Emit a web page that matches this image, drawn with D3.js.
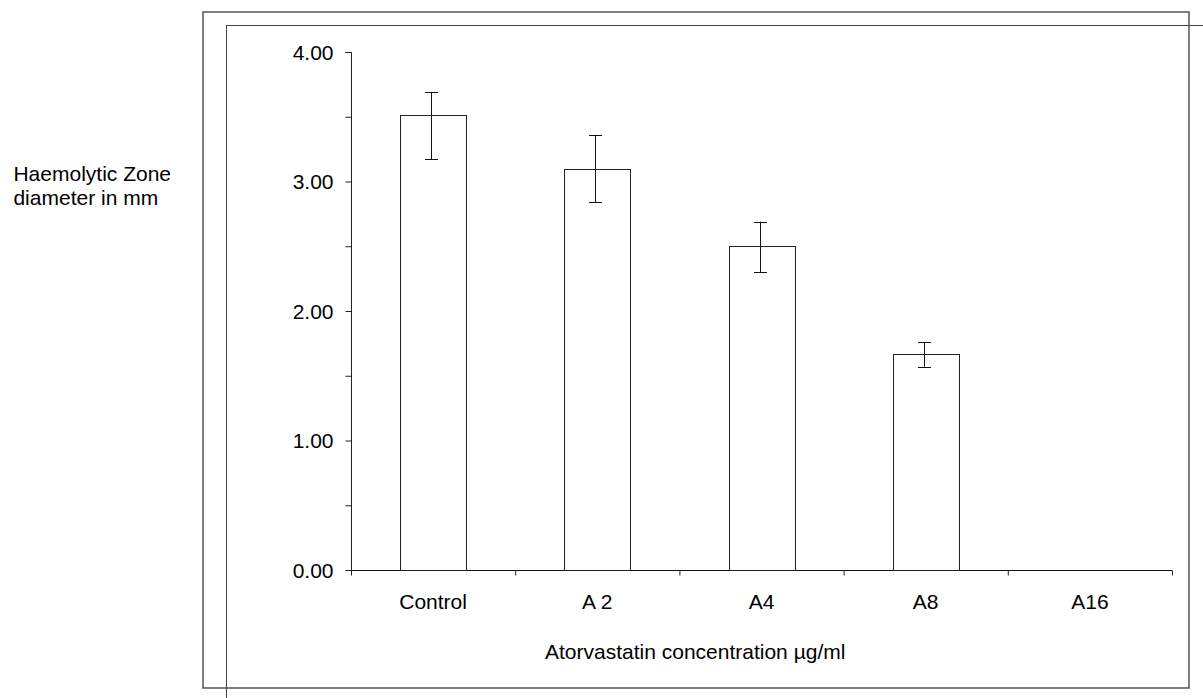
<!DOCTYPE html>
<html>
<head>
<meta charset="utf-8">
<script src="https://cdn.jsdelivr.net/npm/d3@7/dist/d3.min.js"></script>
<style>
  html, body { margin: 0; padding: 0; background: #fff; }
  svg { display: block; }
  text { font-family: "Liberation Sans", Arial, sans-serif; fill: #000; }
</style>
</head>
<body>
<svg id="chart" width="1203" height="698"></svg>
<script>
const categories = ["Control", "A 2", "A4", "A8", "A16"];
const values = [3.51, 3.10, 2.50, 1.67, 0];
const errUpper = [3.69, 3.36, 2.69, 1.76, 0];
const errLower = [3.17, 2.84, 2.30, 1.57, 0];
const yTicks = [0, 1, 2, 3, 4];
const yMinorTicks = [0.5, 1.5, 2.5, 3.5];
const yLabelLines = ["Haemolytic Zone", "diameter in mm"];
const xLabel = "Atorvastatin concentration µg/ml";

const svg = d3.select("#chart");
const fs = 21;

// frames
svg.append("rect").attr("x", 203).attr("y", 12).attr("width", 986).attr("height", 676)
  .attr("fill", "none").attr("stroke", "#555").attr("stroke-width", 1.5);
svg.append("rect").attr("x", 226.5).attr("y", 25.5).attr("width", 1000).attr("height", 700)
  .attr("fill", "none").attr("stroke", "#444").attr("stroke-width", 1);

const x = d3.scaleBand().domain(categories).range([351, 1172]).padding(0);
const y = d3.scaleLinear().domain([0, 4]).range([570, 52]);

const g = svg.append("g");

// y axis
const yAxis = d3.axisLeft(y).tickValues(yTicks.concat(yMinorTicks)).tickSize(6)
  .tickFormat(d => Number.isInteger(d) ? d3.format(".2f")(d) : "");
const ya = g.append("g").attr("transform", "translate(351.5,0)").call(yAxis);
ya.select(".domain").attr("d", `M-6,${y(4)+0.5}H0V${y(0)}`).attr("stroke", "#222");
ya.selectAll(".tick line").attr("stroke", "#222");
ya.selectAll(".tick text").attr("x", -18).attr("dy", "0.35em")
  .style("font-size", fs + "px").style("font-family", "'Liberation Sans', Arial, sans-serif");

// x axis
const xEdges = categories.map(c => x(c)).concat([x.range()[1]]);
const xa = g.append("g").attr("transform", "translate(0,570.5)");
xa.append("line").attr("x1", 351).attr("x2", 1172).attr("stroke", "#111");
xa.selectAll("line.tk").data(xEdges).join("line").attr("class", "tk")
  .attr("x1", d => d + 0.5).attr("x2", d => d + 0.5).attr("y1", 0).attr("y2", 5).attr("stroke", "#222");
xa.selectAll("text").data(categories).join("text")
  .attr("x", d => x(d) + x.bandwidth() / 2).attr("y", 38)
  .attr("text-anchor", "middle").style("font-size", fs + "px").text(d => d);

// bars
const bw = x.bandwidth() * 0.4;
g.selectAll("rect.bar").data(categories).join("rect").attr("class", "bar")
  .attr("x", d => Math.round(x(d) + x.bandwidth() * 0.3) + 0.5)
  .attr("y", (d, i) => Math.round(y(values[i])) + 0.5)
  .attr("width", Math.round(bw))
  .attr("height", (d, i) => Math.round(y(0)) - Math.round(y(values[i])))
  .attr("fill", "#fff").attr("stroke", "#222").attr("stroke-width", 1);

// error bars
const cap = 13;
const eg = g.append("g").attr("stroke", "#111").attr("stroke-width", 1);
categories.forEach((c, i) => {
  const cx = Math.round(x(c) + x.bandwidth() / 2) - 1.5;
  eg.append("line").attr("x1", cx).attr("x2", cx).attr("y1", y(errUpper[i])).attr("y2", y(errLower[i]));
  eg.append("line").attr("x1", cx - cap / 2).attr("x2", cx + cap / 2).attr("y1", Math.round(y(errUpper[i])) + 0.5).attr("y2", Math.round(y(errUpper[i])) + 0.5);
  eg.append("line").attr("x1", cx - cap / 2).attr("x2", cx + cap / 2).attr("y1", Math.round(y(errLower[i])) + 0.5).attr("y2", Math.round(y(errLower[i])) + 0.5);
});

// axis titles
svg.append("text").attr("x", 545).attr("y", 659).attr("text-anchor", "start")
  .style("font-size", fs + "px").text(xLabel);
const yl = svg.append("text").style("font-size", fs + "px");
const tsp = yLabelLines.map((t, i) => yl.append("tspan").attr("y", 181 + i * 24).text(t));
const w0 = tsp[0].node().getComputedTextLength();
const startX = 171 - w0;
tsp.forEach(t => t.attr("x", startX));
</script>
</body>
</html>
